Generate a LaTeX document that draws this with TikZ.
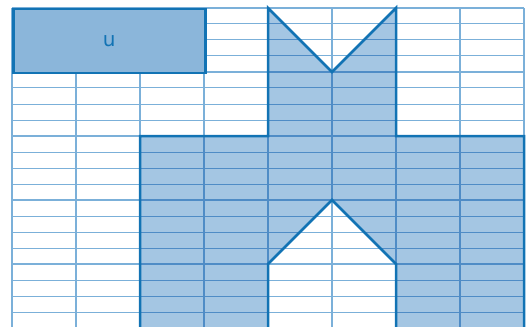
\documentclass[tikz,border=0pt]{standalone}
\usepackage{fontspec}
\newfontfamily\labelfont{DejaVu Sans}
\definecolor{gridout}{HTML}{7BB0D9}
\definecolor{gridin}{HTML}{4F8CC6}
\definecolor{shapefill}{HTML}{A4C6E3}
\definecolor{rectfill}{HTML}{8BB6DA}
\definecolor{outline}{HTML}{1273B4}
\tikzset{
  minorline/.style={line width=1pt},
  majorline/.style={line width=2pt},
  outlinestyle/.style={draw=outline, line width=2.5pt, line join=miter},
}
\newcommand{\drawgrid}[1]{%
  \foreach \yy in {8,24,...,328} \draw[minorline,#1] (12,\yy) -- (524,\yy);
  \foreach \yy in {8,72,...,328} \draw[majorline,#1] (12,\yy) -- (524,\yy);
  \foreach \xx in {12,76,...,524} \draw[majorline,#1] (\xx,8) -- (\xx,340);
}
\begin{document}
\begin{tikzpicture}[x=1pt,y=-1pt]
\useasboundingbox (0,0) rectangle (526,326);
\clip (0,0) rectangle (526,326);
% shape fill
\fill[shapefill] (268,8) -- (332,72) -- (396,8) -- (396,136) -- (524,136) -- (524,340) -- (396,340) -- (396,264) -- (332,200) -- (268,264) -- (268,340) -- (140,340) -- (140,136) -- (268,136) -- cycle;
% grid outside
\drawgrid{gridout}
% grid inside the shape
\begin{scope}
\clip (268,8) -- (332,72) -- (396,8) -- (396,136) -- (524,136) -- (524,340) -- (396,340) -- (396,264) -- (332,200) -- (268,264) -- (268,340) -- (140,340) -- (140,136) -- (268,136) -- cycle;
\drawgrid{gridin}
\end{scope}
% shape outline
\draw[outlinestyle] (268,8) -- (332,72) -- (396,8) -- (396,136) -- (524,136) -- (524,340) -- (396,340) -- (396,264) -- (332,200) -- (268,264) -- (268,340) -- (140,340) -- (140,136) -- (268,136) -- cycle;
% labelled rectangle
\node[outlinestyle, fill=rectfill, minimum width=192pt, minimum height=64pt, anchor=north west, inner sep=0pt, text=outline, font=\labelfont\fontsize{20}{24}\selectfont] (u) at (12,8) {\raisebox{-2pt}{u}};
\end{tikzpicture}
\end{document}
